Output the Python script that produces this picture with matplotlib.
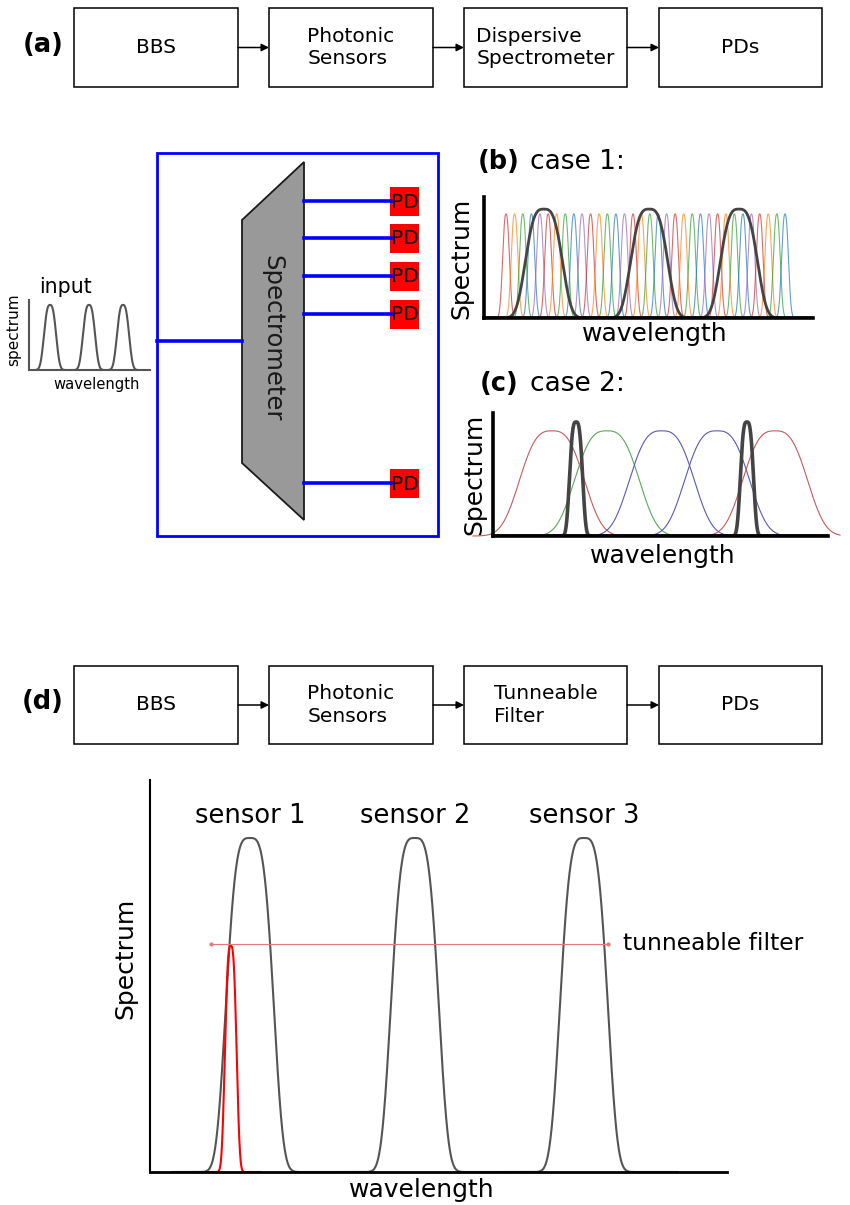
"""Interrogation schemes: spectrometer read-out vs tunable-filter read-out."""

import matplotlib

matplotlib.use("Agg")
import matplotlib.pyplot as plt
import numpy as np
from matplotlib.patches import FancyArrowPatch, Polygon, Rectangle

W, H = 850, 1205

# block diagrams
PIPE_A = ["BBS", "Photonic\nSensors", "Dispersive\nSpectrometer", "PDs"]
PIPE_D = ["BBS", "Photonic\nSensors", "Tunneable\nFilter", "PDs"]

# input spectrum (small inset)
input_centres = [17.4, 49.6, 77.7]
input_height = 0.93
input_fwhm = 10.5

# case 1: many narrow spectrometer channels, three sensor peaks
channel_centres = [6.7, 9.3, 11.8, 14.4, 17.0, 19.5, 22.1, 24.7, 27.3, 29.8,
                   32.4, 35.0, 37.5, 40.1, 42.7, 45.3, 47.8, 50.4, 53.0, 55.5,
                   58.1, 60.7, 63.3, 65.8, 68.4, 71.0, 73.5, 76.1, 78.7, 81.3,
                   83.8, 86.4, 89.0, 91.5]
channel_height = 0.86
channel_fwhm = 2.3
case1_sensor_centres = [18.2, 50.2, 77.5]
case1_sensor_height = 0.90
case1_sensor_fwhm = 11.5

# case 2: few broad channels, two narrow sensor peaks
broad_centres = [17.6, 34.0, 50.4, 66.9, 84.2]
broad_colors = ["#c85a5a", "#5aa85a", "#5a5ab4", "#5a5ab4", "#c85a5a"]
broad_height = 0.855
broad_fwhm = 20.0
case2_sensor_centres = [24.8, 75.8]
case2_sensor_height = 0.927
case2_sensor_fwhm = 4.0

# (d): three sensors scanned by a tunable filter
sensor_names = ["sensor 1", "sensor 2", "sensor 3"]
sensor_centres = [17.3, 45.9, 75.2]
sensor_height = 0.852
sensor_fwhm = 8.3
filter_centre = 14.0
filter_height = 0.577
filter_fwhm = 2.1
filter_scan = [10.6, 79.4]
filter_level = 0.582


def flat_peak(x, centre, fwhm, height, order=1.4):
    return height * np.exp(-np.log(2) * np.abs(2 * (x - centre) / fwhm) ** (2 * order))


def px_axes(left, top, right, bottom):
    ax = fig.add_axes([left / W, 1 - bottom / H, (right - left) / W, (bottom - top) / H])
    ax.set_facecolor("none")
    ax.set_xticks([])
    ax.set_yticks([])
    for side in ("top", "right"):
        ax.spines[side].set_visible(False)
    return ax


fig = plt.figure(figsize=(W / 100, H / 100), dpi=100)
canvas = fig.add_axes([0, 0, 1, 1])
canvas.set_xlim(0, W)
canvas.set_ylim(H, 0)
canvas.axis("off")

# ---- block diagrams (a) and (d)
box_x = [74, 269, 464, 659]
box_w = [164, 164, 163, 163]
for tag, labels, top, bottom in (("(a)", PIPE_A, 8, 87), ("(d)", PIPE_D, 666, 744)):
    mid = (top + bottom) / 2
    canvas.text(43, mid - 3, tag, fontsize=18.5, fontweight="bold", ha="center", va="center")
    for i, label in enumerate(labels):
        canvas.add_patch(Rectangle((box_x[i], top), box_w[i], bottom - top,
                                   fill=False, ec="black", lw=1.1))
        canvas.text(box_x[i] + box_w[i] / 2, mid, label, fontsize=14.5, ha="center",
                    va="center", multialignment="left", linespacing=1.25)
        if i < len(labels) - 1:
            canvas.add_patch(FancyArrowPatch((box_x[i] + box_w[i], mid), (box_x[i + 1], mid),
                                             arrowstyle="-|>", mutation_scale=11, lw=1.1,
                                             color="black", shrinkA=0, shrinkB=0))

# ---- spectrometer schematic
canvas.add_patch(Rectangle((157, 153), 281, 383, fill=False, ec="#0000ff", lw=2))
canvas.add_patch(Polygon([(242, 220), (304, 162), (304, 520), (242, 463)],
                         closed=True, fc="#999999", ec="#1a1a1a", lw=1.3))
canvas.text(272, 338, "Spectrometer", fontsize=17.5, rotation=-90, ha="center", va="center",
            color="#1a1a1a")
canvas.plot([157, 242], [341, 341], color="#0000ff", lw=2.6)
for y in [201, 238, 276, 314, 483]:
    canvas.plot([304, 391], [y, y], color="#0000ff", lw=2.6)
    canvas.add_patch(Rectangle((390, y - 14.5), 29, 29, fc="#ff0000", ec="none"))
    canvas.text(405, y + 1, "PD", fontsize=14.5, ha="center", va="center", color="#111111")

# ---- input spectrum inset
ax_in = px_axes(29, 300, 150, 370)
for side in ("left", "bottom"):
    ax_in.spines[side].set_color("#555555")
    ax_in.spines[side].set_linewidth(1.5)
for c in input_centres:
    x = np.linspace(c - 12, c + 12, 200)
    ax_in.plot(x, flat_peak(x, c, input_fwhm, input_height), color="#555555", lw=1.5)
ax_in.set_xlim(0, 100)
ax_in.set_ylim(0, 1)
canvas.text(66, 287, "input", fontsize=14.8, ha="center", va="center")
canvas.text(14, 330, "spectrum", fontsize=11, rotation=90, ha="center", va="center")
canvas.text(97, 384, "wavelength", fontsize=10.6, ha="center", va="center")

# ---- (b) case 1
ax1 = px_axes(484, 197, 813, 318)
for side in ("left", "bottom"):
    ax1.spines[side].set_linewidth(2.6)
channel_cycle = ["C3", "C1", "C2", "C0", "C4"]
x = np.linspace(0, 100, 1500)
for i, c in enumerate(channel_centres):
    ax1.plot(x, flat_peak(x, c, channel_fwhm, channel_height, order=1.2),
             color=channel_cycle[i % len(channel_cycle)], lw=0.8, alpha=0.7)
for c in case1_sensor_centres:
    ax1.plot(x, flat_peak(x, c, case1_sensor_fwhm, case1_sensor_height, order=1.6),
             color="#444444", lw=2)
ax1.set_xlim(0, 100)
ax1.set_ylim(0, 1)
canvas.text(499, 162, "(b)", fontsize=18.5, fontweight="bold", ha="center", va="center")
canvas.text(530, 162, "case 1:", fontsize=19, ha="left", va="center")
canvas.text(461, 258, "Spectrum", fontsize=18, rotation=90, ha="center", va="center")
canvas.text(655, 334, "wavelength", fontsize=18, ha="center", va="center")

# ---- (c) case 2
ax2 = px_axes(493, 413, 828, 536)
for side in ("left", "bottom"):
    ax2.spines[side].set_linewidth(2.6)
for c, col in zip(broad_centres, broad_colors):
    xb = np.linspace(max(c - 32, -6), min(c + 32, 103.6), 400)
    ax2.plot(xb, flat_peak(xb, c, broad_fwhm, broad_height, order=1.45),
             color=col, lw=0.8, clip_on=False)
x = np.linspace(0, 100, 1500)
for c in case2_sensor_centres:
    ax2.plot(x, flat_peak(x, c, case2_sensor_fwhm, case2_sensor_height, order=1.6),
             color="#444444", lw=2.6)
ax2.set_xlim(0, 100)
ax2.set_ylim(0, 1)
canvas.text(499, 384, "(c)", fontsize=18.5, fontweight="bold", ha="center", va="center")
canvas.text(530, 384, "case 2:", fontsize=19, ha="left", va="center")
canvas.text(474, 474, "Spectrum", fontsize=18, rotation=90, ha="center", va="center")
canvas.text(663, 556, "wavelength", fontsize=18, ha="center", va="center")

# ---- (d) tunable filter scan
ax3 = px_axes(150, 780, 727, 1172)
ax3.spines["left"].set_linewidth(1.5)
ax3.spines["bottom"].set_linewidth(2)
x = np.linspace(3.8, 91.5, 2000)
total = sum(flat_peak(x, c, sensor_fwhm, sensor_height, order=1.8) for c in sensor_centres)
ax3.plot(x, total, color="#555555", lw=1.5)
for name, c in zip(sensor_names, sensor_centres):
    ax3.text(c, 0.908, name, fontsize=18.5, ha="center", va="center")
xf = np.linspace(10.0, 19.1, 300)
ax3.plot(xf, flat_peak(xf, filter_centre, filter_fwhm, filter_height, order=1.5),
         color="#ff0000", lw=1.5)
ax3.plot(filter_scan, [filter_level, filter_level], color="#e87878", lw=0.8,
         marker="o", markersize=2)
ax3.text(82.0, filter_level, "tunneable filter", fontsize=16.8, ha="left", va="center")
ax3.set_xlim(0, 100)
ax3.set_ylim(0, 1)
canvas.text(125, 958, "Spectrum", fontsize=18, rotation=90, ha="center", va="center")
canvas.text(422, 1190, "wavelength", fontsize=18, ha="center", va="center")

fig.savefig("out.png", dpi=100)
